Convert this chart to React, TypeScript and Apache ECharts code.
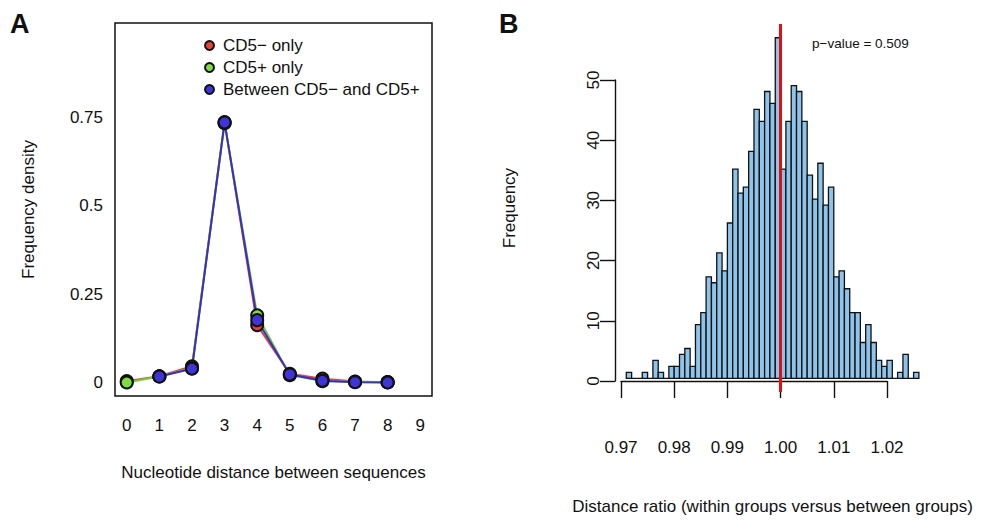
import React, { useEffect, useRef } from "react";
import * as echarts from "echarts";

// ---------- Panel A data ----------
const DISTANCES = [0, 1, 2, 3, 4, 5, 6, 7, 8];
const X_TICKS_A = [0, 1, 2, 3, 4, 5, 6, 7, 8, 9];
const Y_TICKS_A = [0, 0.25, 0.5, 0.75];
const CD5_NEG_ONLY = [0.003, 0.017, 0.045, 0.738, 0.162, 0.024, 0.01, 0.002, 0.0];
const CD5_POS_ONLY = [-0.001, 0.016, 0.04, 0.735, 0.19, 0.02, 0.003, 0.001, 0.0];
const BETWEEN = [null, 0.016, 0.038, 0.737, 0.176, 0.022, 0.004, 0.0, -0.001];
const SERIES_NAMES = ["CD5\u2212 only", "CD5+ only", "Between CD5\u2212 and CD5+"];

// ---------- Panel B data ----------
const HIST_BREAK_START = 0.971;
const HIST_BIN_WIDTH = 0.001;
const HIST_COUNTS = [
  1, 0, 0, 1, 0, 3, 1, 0, 2, 2, 4, 5, 2, 9, 11, 17, 16, 21, 18, 26, 35, 31, 32, 38, 45, 43, 48, 46,
  57, 35, 43, 49, 48, 43, 34, 30, 36, 29, 32, 17, 18, 15, 11, 11, 6, 9, 6, 3, 2, 3, 0, 1, 4, 0, 1,
];
const X_TICKS_B = [0.97, 0.98, 0.99, 1.0, 1.01, 1.02];
const OBSERVED_RATIO = 0.9995;
const P_VALUE = "0.509";

const FONT = "'Liberation Sans', Arial, Helvetica, sans-serif";
const INK = "#111";

export default function App() {
  const ref = useRef<HTMLDivElement>(null);
  useEffect(() => {
    if (!ref.current) return;
    document.body.style.margin = "0";
    const chart = echarts.init(ref.current, undefined, { renderer: "svg" });

    const toPairs = (ys: (number | null)[]) => DISTANCES.map((x, i) => [x, ys[i]]);
    const histData = HIST_COUNTS.map((c, i) => {
      const left = HIST_BREAK_START + i * HIST_BIN_WIDTH;
      return [left, left + HIST_BIN_WIDTH, c];
    });

    const lineSeries = (name: string, ys: (number | null)[], color: string, lineColor: string) => ({
      type: "line",
      name,
      xAxisIndex: 0,
      yAxisIndex: 0,
      data: toPairs(ys),
      symbol: "circle",
      symbolSize: 12,
      connectNulls: false,
      lineStyle: { color: lineColor, width: 2 },
      itemStyle: { color, borderColor: INK, borderWidth: 2 },
    });

    const option: any = {
      animation: false,
      textStyle: { fontFamily: FONT },
      grid: [
        { left: 115, top: 23, width: 317, height: 373, show: true, borderColor: INK, borderWidth: 1.5, backgroundColor: "transparent" },
        { left: 614.6, top: 24.1, width: 316, height: 370.6 },
        { left: 621, top: 80, width: 266, height: 301 },
      ],
      legend: {
        orient: "vertical",
        left: 199,
        top: 32,
        itemWidth: 9,
        itemHeight: 9,
        itemGap: 5,
        icon: "circle",
        data: SERIES_NAMES,
        textStyle: { fontSize: 17, color: INK, fontFamily: FONT, padding: [0, 0, 0, 4] },
      },
      xAxis: [
        {
          type: "value",
          gridIndex: 0,
          min: -0.36,
          max: 9.36,
          axisLine: { show: false },
          axisTick: { show: false },
          splitLine: { show: false },
          axisLabel: { customValues: X_TICKS_A, fontSize: 17, color: INK, margin: 21, fontFamily: FONT },
          name: "Nucleotide distance between sequences",
          nameLocation: "middle",
          nameGap: 68,
          nameTextStyle: { fontSize: 17, color: INK, fontFamily: FONT },
        },
        {
          type: "value",
          gridIndex: 1,
          min: 0.9688,
          max: 1.0282,
          axisLine: { show: false },
          axisTick: { show: false },
          axisLabel: { show: false },
          splitLine: { show: false },
          name: "Distance ratio (within groups versus between groups)",
          nameLocation: "middle",
          nameGap: 106,
          nameTextStyle: { fontSize: 17, color: INK, fontFamily: FONT },
        },
        {
          type: "value",
          gridIndex: 2,
          min: 0.97,
          max: 1.02,
          offset: 14,
          axisLine: { show: true, lineStyle: { color: INK, width: 1.4 } },
          axisTick: { show: true, customValues: X_TICKS_B, length: 17, lineStyle: { color: INK, width: 1.4 } },
          splitLine: { show: false },
          axisLabel: {
            customValues: X_TICKS_B,
            formatter: (v: number) => v.toFixed(2),
            fontSize: 17,
            color: INK,
            margin: 44,
            fontFamily: FONT,
          },
        },
      ],
      yAxis: [
        {
          type: "value",
          gridIndex: 0,
          min: -0.0392,
          max: 1.0192,
          axisLine: { show: false },
          axisTick: { show: false },
          splitLine: { show: false },
          axisLabel: { customValues: Y_TICKS_A, fontSize: 17, color: INK, margin: 12, fontFamily: FONT },
          name: "Frequency density",
          nameLocation: "middle",
          nameGap: 78,
          nameTextStyle: { fontSize: 17, color: INK, fontFamily: FONT },
        },
        {
          type: "value",
          gridIndex: 1,
          min: -2.28,
          max: 59.28,
          axisLine: { show: false },
          axisTick: { show: false },
          axisLabel: { show: false },
          splitLine: { show: false },
          name: "Frequency",
          nameLocation: "middle",
          nameGap: 97,
          nameTextStyle: { fontSize: 17, color: INK, fontFamily: FONT },
        },
        {
          type: "value",
          gridIndex: 2,
          min: 0,
          max: 50,
          interval: 10,
          offset: 6,
          axisLine: { show: true, lineStyle: { color: INK, width: 1.4 } },
          axisTick: { show: true, length: 15, lineStyle: { color: INK, width: 1.4 } },
          splitLine: { show: false },
          axisLabel: { rotate: 90, fontSize: 17, color: INK, margin: 13, fontFamily: FONT },
        },
      ],
      series: [
        lineSeries(SERIES_NAMES[0], CD5_NEG_ONLY, "#e0443c", "#e0443c"),
        lineSeries(SERIES_NAMES[1], CD5_POS_ONLY, "#7fdc45", "#6fcf3a"),
        lineSeries(SERIES_NAMES[2], BETWEEN, "#3d35d9", "#3530c8"),
        {
          type: "custom",
          name: "histogram",
          xAxisIndex: 1,
          yAxisIndex: 1,
          data: histData,
          encode: { x: [0, 1], y: 2 },
          renderItem: (_params: any, api: any) => {
            const p0 = api.coord([api.value(0), 0]);
            const p1 = api.coord([api.value(1), api.value(2)]);
            return {
              type: "rect",
              shape: { x: p0[0], y: p1[1], width: p1[0] - p0[0], height: p0[1] - p1[1] },
              style: { fill: "#8ec3ea", stroke: INK, lineWidth: 1.3 },
            };
          },
          markLine: {
            silent: true,
            symbol: "none",
            label: { show: false },
            lineStyle: { color: "#e01010", width: 3, type: "solid" },
            data: [{ xAxis: OBSERVED_RATIO }],
          },
        },
      ],
      graphic: [
        { type: "text", left: 10, top: 10, style: { text: "A", fontSize: 27, fontWeight: "bold", fill: INK, fontFamily: FONT } },
        { type: "text", left: 499, top: 10, style: { text: "B", fontSize: 27, fontWeight: "bold", fill: INK, fontFamily: FONT } },
        {
          type: "text",
          left: 812,
          top: 36,
          style: { text: "p\u2212value = " + P_VALUE, fontSize: 13.5, fill: INK, fontFamily: FONT },
        },
      ],
    };

    chart.setOption(option);
    return () => chart.dispose();
  }, []);

  return <div ref={ref} style={{ width: 981, height: 520 }} />;
}
